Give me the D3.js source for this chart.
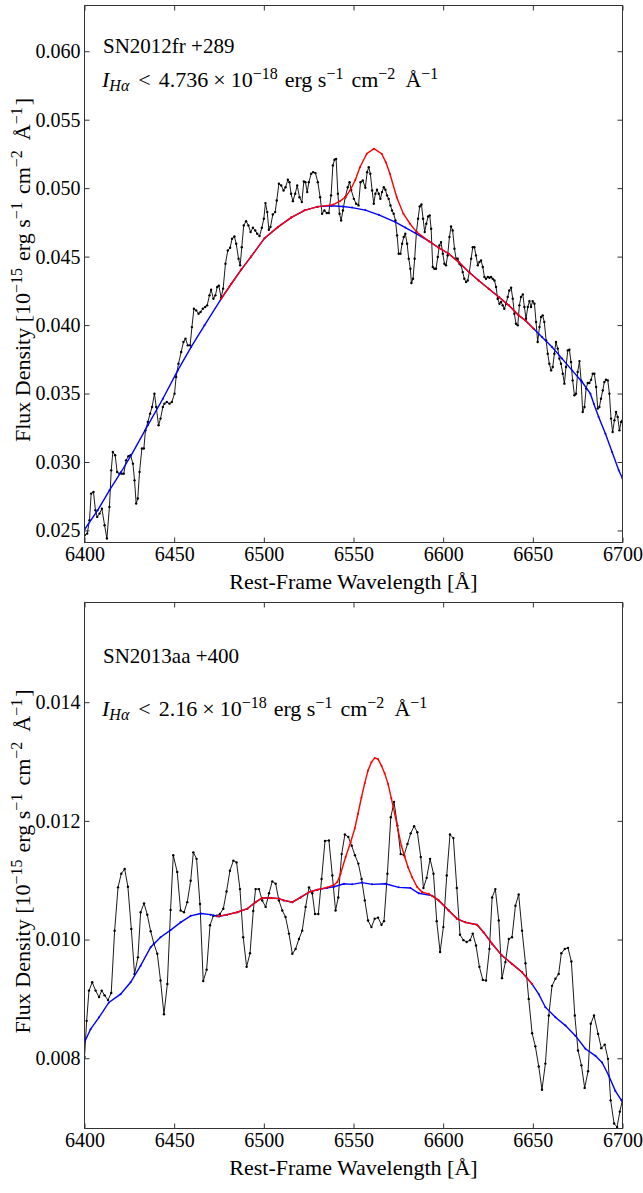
<!DOCTYPE html>
<html>
<head>
<meta charset="utf-8">
<script src="https://cdn.jsdelivr.net/npm/d3@7"></script>
<style>
  body { margin: 0; background: #fff; }
</style>
</head>
<body>
<div id="chart-area"></div>
<script>
// ---- data (wavelength in Å, flux in 1e-15 erg/s/cm2/Å) ----
var xTicks = [6400, 6450, 6500, 6550, 6600, 6650, 6700];

var topName = "SN2012fr +289";
var topLimit = "4.736";
var topYDomain = [0.02412, 0.06334];
var topYTicks = [0.025, 0.030, 0.035, 0.040, 0.045, 0.050, 0.055, 0.060];

var topSpectrum = [[6400.0,0.02465],[6401.5,0.02477],[6402.8,0.02574],[6403.7,0.02769],[6405.0,0.02781],[6406.1,0.02647],[6407.1,0.02599],[6408.4,0.02623],[6409.7,0.02659],[6411.2,0.02538],[6412.5,0.02441],[6413.9,0.02672],[6414.9,0.02939],[6415.8,0.03073],[6417.1,0.03049],[6418.2,0.02927],[6419.5,0.02915],[6420.8,0.02915],[6421.9,0.02915],[6423.2,0.03012],[6424.5,0.03042],[6425.7,0.03049],[6427.0,0.02988],[6427.9,0.02866],[6428.8,0.02696],[6429.7,0.02733],[6430.7,0.02927],[6432.0,0.03098],[6433.1,0.03098],[6434.0,0.03231],[6435.3,0.03292],[6436.6,0.03353],[6437.7,0.03402],[6439.0,0.03499],[6440.0,0.03402],[6441.3,0.03268],[6442.4,0.03317],[6443.7,0.03402],[6444.6,0.03426],[6445.9,0.03438],[6447.4,0.03426],[6448.7,0.03438],[6450.2,0.03499],[6451.1,0.03621],[6452.4,0.03718],[6453.9,0.03803],[6455.2,0.03876],[6456.3,0.03900],[6457.6,0.03852],[6458.9,0.03852],[6459.9,0.03985],[6461.0,0.04119],[6462.3,0.04107],[6463.6,0.04083],[6464.7,0.04095],[6466.0,0.04119],[6467.3,0.04132],[6468.4,0.04144],[6469.7,0.04217],[6470.6,0.04258],[6471.9,0.04192],[6473.0,0.04217],[6474.0,0.04278],[6474.9,0.04287],[6476.2,0.04200],[6477.3,0.04266],[6478.6,0.04448],[6479.9,0.04545],[6481.2,0.04565],[6482.3,0.04630],[6483.6,0.04647],[6484.6,0.04594],[6485.9,0.04484],[6486.8,0.04436],[6487.7,0.04569],[6488.8,0.04728],[6490.1,0.04759],[6491.4,0.04728],[6492.6,0.04679],[6493.9,0.04711],[6495.2,0.04691],[6496.3,0.04667],[6497.6,0.04650],[6498.9,0.04711],[6500.0,0.04777],[6500.9,0.04891],[6501.9,0.04825],[6502.8,0.04696],[6503.7,0.04716],[6505.0,0.04808],[6506.3,0.04825],[6507.2,0.04910],[6508.4,0.05032],[6509.7,0.05020],[6511.0,0.04983],[6512.1,0.05007],[6513.4,0.05061],[6514.3,0.05044],[6515.2,0.04959],[6516.2,0.04905],[6517.5,0.04959],[6518.6,0.05020],[6519.9,0.04934],[6521.2,0.04898],[6522.3,0.05049],[6523.2,0.05044],[6524.2,0.04971],[6525.1,0.05044],[6526.4,0.05105],[6527.5,0.05117],[6528.8,0.05110],[6530.1,0.05044],[6531.4,0.04934],[6532.5,0.04813],[6533.8,0.04837],[6535.1,0.04818],[6536.2,0.04818],[6537.5,0.04947],[6538.5,0.05166],[6539.4,0.05207],[6540.3,0.05214],[6541.3,0.04959],[6542.2,0.04813],[6543.1,0.04764],[6544.1,0.04837],[6545.4,0.04934],[6546.8,0.05007],[6547.8,0.05044],[6548.7,0.04988],[6550.2,0.04922],[6551.5,0.04886],[6552.8,0.04874],[6553.9,0.05044],[6555.2,0.05056],[6556.6,0.05003],[6557.6,0.05117],[6558.5,0.05153],[6559.4,0.05105],[6560.4,0.04983],[6561.3,0.04886],[6562.2,0.04959],[6563.1,0.04988],[6564.1,0.04959],[6565.0,0.04922],[6565.9,0.04971],[6566.9,0.05007],[6567.8,0.04988],[6568.7,0.04947],[6569.6,0.04922],[6570.6,0.04874],[6571.5,0.04837],[6572.4,0.04813],[6573.4,0.04764],[6574.3,0.04655],[6575.2,0.04521],[6576.2,0.04521],[6577.1,0.04594],[6578.0,0.04643],[6578.9,0.04667],[6579.9,0.04594],[6580.8,0.04484],[6581.7,0.04411],[6582.3,0.04307],[6583.2,0.04338],[6584.1,0.04484],[6585.1,0.04679],[6586.0,0.04776],[6586.9,0.04866],[6587.9,0.04881],[6588.8,0.04776],[6589.7,0.04679],[6590.6,0.04740],[6591.6,0.04793],[6592.5,0.04801],[6593.3,0.04703],[6594.2,0.04424],[6595.1,0.04411],[6596.0,0.04411],[6597.0,0.04497],[6597.9,0.04582],[6598.8,0.04606],[6599.8,0.04521],[6600.7,0.04448],[6601.6,0.04436],[6602.5,0.04509],[6603.5,0.04643],[6604.4,0.04720],[6605.3,0.04691],[6606.3,0.04557],[6607.2,0.04484],[6608.1,0.04484],[6609.1,0.04448],[6610.0,0.04436],[6610.9,0.04387],[6611.8,0.04338],[6612.8,0.04314],[6613.7,0.04326],[6614.6,0.04387],[6615.6,0.04484],[6616.5,0.04569],[6617.4,0.04569],[6618.3,0.04509],[6619.3,0.04436],[6620.2,0.04460],[6621.1,0.04472],[6622.1,0.04424],[6623.0,0.04351],[6623.9,0.04338],[6624.9,0.04351],[6625.8,0.04346],[6626.7,0.04351],[6627.6,0.04338],[6628.6,0.04326],[6629.5,0.04278],[6630.4,0.04192],[6631.4,0.04156],[6632.3,0.04168],[6633.2,0.04144],[6634.1,0.04119],[6635.1,0.04156],[6636.0,0.04205],[6636.9,0.04253],[6637.9,0.04273],[6638.8,0.04192],[6639.7,0.04083],[6640.6,0.04010],[6641.6,0.03998],[6642.5,0.04144],[6643.4,0.04205],[6644.4,0.04224],[6645.3,0.04132],[6646.2,0.04046],[6647.2,0.04132],[6648.1,0.04175],[6649.0,0.04132],[6649.9,0.04175],[6650.9,0.04156],[6651.8,0.04022],[6652.7,0.03876],[6653.7,0.03986],[6654.6,0.04059],[6655.5,0.04071],[6656.4,0.04022],[6657.4,0.03888],[6658.3,0.03791],[6659.2,0.03718],[6660.2,0.03669],[6661.1,0.03694],[6662.0,0.03791],[6662.9,0.03876],[6663.9,0.03828],[6664.8,0.03755],[6665.7,0.03718],[6666.7,0.03645],[6667.6,0.03572],[6668.5,0.03694],[6669.5,0.03815],[6670.4,0.03820],[6671.3,0.03730],[6672.2,0.03596],[6673.2,0.03487],[6674.1,0.03499],[6675.0,0.03657],[6676.0,0.03737],[6676.9,0.03596],[6677.8,0.03365],[6678.8,0.03402],[6679.7,0.03536],[6680.6,0.03577],[6681.5,0.03577],[6682.5,0.03601],[6683.4,0.03645],[6684.3,0.03645],[6685.3,0.03548],[6686.2,0.03390],[6687.1,0.03402],[6688.0,0.03462],[6689.0,0.03523],[6689.9,0.03584],[6690.8,0.03601],[6691.8,0.03596],[6692.7,0.03499],[6693.6,0.03317],[6694.5,0.03219],[6695.5,0.03304],[6696.4,0.03365],[6697.3,0.03329],[6698.3,0.03231],[6699.2,0.03292],[6700.0,0.03304]];

var topContinuum = [[6400.0,0.02506],[6407.4,0.02648],[6413.9,0.02793],[6420.4,0.02927],[6426.0,0.03049],[6435.3,0.03268],[6443.7,0.03462],[6452.0,0.03669],[6459.5,0.03840],[6466.9,0.03998],[6476.2,0.04192],[6481.8,0.04300],[6487.4,0.04405],[6492.9,0.04500],[6500.4,0.04635],[6507.8,0.04715],[6515.2,0.04785],[6522.7,0.04838],[6530.1,0.04865],[6537.5,0.04872],[6544.0,0.04866],[6549.2,0.04858],[6556.6,0.04840],[6564.1,0.04805],[6573.4,0.04752],[6578.9,0.04712],[6584.5,0.04672],[6592.0,0.04613],[6597.5,0.04565],[6603.1,0.04521],[6608.7,0.04460],[6614.3,0.04387],[6619.8,0.04326],[6625.4,0.04265],[6631.0,0.04205],[6636.6,0.04144],[6642.1,0.04071],[6645.9,0.04034],[6650.5,0.03974],[6655.1,0.03913],[6660.7,0.03840],[6666.3,0.03755],[6671.9,0.03669],[6677.5,0.03584],[6682.1,0.03499],[6684.0,0.03426],[6686.7,0.03329],[6690.5,0.03207],[6694.2,0.03073],[6697.9,0.02940],[6700.0,0.02879]];

var topFit = [[6476.2,0.04192],[6481.8,0.04300],[6487.4,0.04405],[6492.9,0.04500],[6500.4,0.04635],[6507.8,0.04715],[6515.2,0.04785],[6522.7,0.04838],[6530.1,0.04865],[6535.0,0.04872],[6538.7,0.04880],[6542.5,0.04905],[6545.5,0.04935],[6548.1,0.04983],[6551.0,0.05060],[6553.6,0.05153],[6557.4,0.05251],[6561.4,0.05288],[6565.7,0.05251],[6568.0,0.05190],[6570.3,0.05105],[6574.1,0.04934],[6577.8,0.04813],[6581.5,0.04740],[6585.2,0.04679],[6592.0,0.04613],[6597.5,0.04565],[6603.1,0.04521],[6608.7,0.04460],[6614.3,0.04387],[6619.8,0.04326],[6625.4,0.04265],[6631.0,0.04205],[6636.6,0.04144],[6642.1,0.04071],[6645.9,0.04034],[6650.5,0.03974]];

var botName = "SN2013aa +400";
var botLimit = "2.16";
var botYDomain = [0.006816, 0.01568];
var botYTicks = [0.008, 0.010, 0.012, 0.014];

var botSpectrum = [[6400.0,0.00802],[6401.2,0.00863],[6402.5,0.00914],[6404.3,0.00928],[6406.2,0.00914],[6408.1,0.00903],[6409.6,0.00914],[6411.2,0.00906],[6413.1,0.00898],[6414.9,0.00910],[6416.8,0.01015],[6418.7,0.01088],[6420.5,0.01111],[6422.4,0.01119],[6424.2,0.01089],[6426.1,0.01018],[6427.9,0.00942],[6429.8,0.00970],[6431.3,0.01046],[6433.2,0.01061],[6435.0,0.01042],[6436.9,0.01014],[6438.7,0.00993],[6440.6,0.00976],[6442.4,0.00931],[6444.3,0.00874],[6446.2,0.00925],[6448.0,0.01050],[6449.5,0.01142],[6451.7,0.01114],[6453.6,0.01049],[6455.5,0.01046],[6457.3,0.01063],[6459.2,0.01099],[6460.7,0.01147],[6462.5,0.01136],[6464.4,0.01060],[6466.2,0.00930],[6468.1,0.00949],[6470.0,0.01024],[6471.8,0.01040],[6473.7,0.01040],[6475.5,0.01043],[6477.4,0.01052],[6479.2,0.01081],[6481.1,0.01116],[6483.0,0.01133],[6484.8,0.01130],[6486.7,0.01085],[6488.5,0.01004],[6490.4,0.00954],[6492.3,0.00977],[6494.1,0.01048],[6495.4,0.01085],[6497.3,0.01085],[6499.1,0.01066],[6501.0,0.01055],[6502.9,0.01078],[6504.7,0.01098],[6506.6,0.01094],[6508.4,0.01066],[6510.3,0.01049],[6512.1,0.01038],[6514.0,0.01010],[6515.9,0.00976],[6517.7,0.00984],[6519.6,0.01001],[6521.4,0.01015],[6523.3,0.01055],[6525.2,0.01088],[6527.0,0.01078],[6528.5,0.01043],[6530.4,0.01043],[6532.2,0.01102],[6534.1,0.01166],[6536.3,0.01167],[6538.2,0.01108],[6540.0,0.01049],[6541.5,0.01071],[6543.4,0.01144],[6545.2,0.01177],[6547.1,0.01173],[6549.0,0.01158],[6550.8,0.01142],[6552.7,0.01128],[6554.5,0.01102],[6556.3,0.01066],[6558.1,0.01032],[6560.0,0.01021],[6561.8,0.01035],[6563.7,0.01037],[6565.6,0.01025],[6567.0,0.01031],[6568.9,0.01111],[6570.8,0.01206],[6572.6,0.01232],[6574.5,0.01192],[6576.3,0.01144],[6578.2,0.01142],[6580.1,0.01161],[6581.9,0.01179],[6583.8,0.01191],[6585.6,0.01181],[6587.5,0.01139],[6589.0,0.01087],[6590.8,0.01104],[6592.7,0.01136],[6594.6,0.01111],[6596.4,0.01031],[6598.3,0.00979],[6600.1,0.01021],[6602.0,0.01108],[6603.8,0.01177],[6605.7,0.01171],[6607.6,0.01087],[6609.4,0.01008],[6611.3,0.00999],[6613.1,0.00996],[6615.0,0.00999],[6616.5,0.01010],[6618.3,0.00990],[6620.2,0.00954],[6622.1,0.00932],[6623.9,0.00931],[6625.8,0.00984],[6627.3,0.01071],[6629.1,0.01085],[6631.0,0.01032],[6632.8,0.00935],[6634.7,0.00962],[6636.6,0.01001],[6638.4,0.01004],[6640.3,0.01057],[6642.1,0.01076],[6644.0,0.01015],[6645.9,0.00960],[6647.7,0.00900],[6649.6,0.00842],[6651.4,0.00820],[6653.3,0.00786],[6655.1,0.00747],[6657.0,0.00791],[6658.9,0.00872],[6660.7,0.00922],[6662.6,0.00934],[6664.4,0.00942],[6665.9,0.00977],[6667.8,0.00984],[6669.6,0.00986],[6671.5,0.00963],[6673.4,0.00872],[6675.2,0.00813],[6677.1,0.00788],[6678.9,0.00750],[6680.8,0.00778],[6682.3,0.00858],[6684.1,0.00872],[6686.4,0.00841],[6688.2,0.00817],[6690.1,0.00823],[6691.9,0.00799],[6693.4,0.00729],[6695.3,0.00690],[6697.0,0.00684],[6698.5,0.00710],[6700.0,0.00730]];

var botContinuum = [[6400.0,0.00827],[6403.4,0.00849],[6408.1,0.00869],[6413.6,0.00894],[6420.1,0.00908],[6425.7,0.00928],[6431.3,0.00956],[6436.9,0.00987],[6442.4,0.01004],[6448.0,0.01016],[6453.6,0.01029],[6459.2,0.01040],[6464.8,0.01044],[6470.3,0.01042],[6475.0,0.01039],[6479.6,0.01042],[6485.2,0.01046],[6490.8,0.01052],[6495.4,0.01063],[6499.1,0.01070],[6503.8,0.01070],[6508.4,0.01069],[6511.2,0.01066],[6515.9,0.01063],[6520.5,0.01071],[6525.2,0.01080],[6529.8,0.01084],[6535.4,0.01087],[6539.1,0.01089],[6544.7,0.01094],[6549.2,0.01093],[6554.8,0.01096],[6560.4,0.01093],[6567.8,0.01094],[6575.2,0.01088],[6581.7,0.01087],[6586.4,0.01078],[6593.8,0.01074],[6597.5,0.01066],[6603.1,0.01049],[6607.8,0.01035],[6612.4,0.01029],[6618.9,0.01025],[6622.6,0.01012],[6627.3,0.00993],[6632.8,0.00973],[6638.4,0.00959],[6644.0,0.00945],[6649.6,0.00925],[6653.3,0.00908],[6657.0,0.00886],[6662.6,0.00869],[6668.2,0.00855],[6673.7,0.00838],[6679.3,0.00816],[6684.9,0.00804],[6688.6,0.00793],[6692.3,0.00771],[6696.0,0.00745],[6699.4,0.00729],[6700.0,0.00727]];

var botFit = [[6474.0,0.01039],[6479.6,0.01042],[6485.2,0.01046],[6490.8,0.01052],[6495.4,0.01063],[6499.1,0.01070],[6503.8,0.01070],[6508.4,0.01069],[6511.2,0.01066],[6515.9,0.01063],[6520.5,0.01071],[6525.2,0.01080],[6529.8,0.01084],[6535.4,0.01088],[6539.1,0.01092],[6541.0,0.01097],[6542.8,0.01111],[6545.6,0.01139],[6548.4,0.01164],[6550.7,0.01187],[6552.5,0.01212],[6554.4,0.01239],[6556.3,0.01264],[6558.1,0.01285],[6560.0,0.01299],[6561.8,0.01306],[6563.7,0.01304],[6565.6,0.01293],[6567.4,0.01280],[6569.3,0.01262],[6571.1,0.01238],[6573.0,0.01212],[6574.9,0.01184],[6576.7,0.01158],[6578.6,0.01139],[6580.4,0.01122],[6582.7,0.01105],[6585.4,0.01089],[6588.2,0.01080],[6592.0,0.01077],[6594.7,0.01072],[6597.5,0.01066],[6603.1,0.01049],[6607.8,0.01035],[6612.4,0.01029],[6618.9,0.01025],[6622.6,0.01012],[6627.3,0.00993],[6632.8,0.00973],[6638.4,0.00959],[6644.0,0.00945],[6649.6,0.00925]];

// ---- layout ----
var width = 643, height = 1193;
var left = 84.5, right = 622.5;
var serif = '"Liberation Serif", "Times New Roman", serif';

var svg = d3.select("#chart-area")
    .append("svg")
    .attr("width", width)
    .attr("height", height)
    .style("display", "block")
    .style("font-family", serif);

var panels = [
    { id: "top", top: 5.5, bottom: 542.5, yDomain: topYDomain, yTicks: topYTicks,
      spectrum: topSpectrum, continuum: topContinuum, fit: topFit, name: topName, limit: topLimit,
      nameY: 53, limitY: 87 },
    { id: "bot", top: 602.5, bottom: 1128.5, yDomain: botYDomain, yTicks: botYTicks,
      spectrum: botSpectrum, continuum: botContinuum, fit: botFit, name: botName, limit: botLimit,
      nameY: 663, limitY: 716 }
];

var x = d3.scaleLinear().domain([6400, 6700]).range([left, right]);

// rich text: parts = [text, "sup"|"sub"|"", italic, dx]
function richText(sel, parts, supSize) {
    var shift = 0;
    parts.forEach(function (p) {
        var t = sel.append("tspan").text(p[0]);
        var target = p[1] === "sup" ? -8 : p[1] === "sub" ? 4 : 0;
        t.attr("dy", target - shift);
        shift = target;
        if (p[1]) t.attr("font-size", supSize);
        if (p[2]) t.attr("font-style", "italic");
        if (p[3]) t.attr("dx", p[3]);
    });
}

panels.forEach(function (p) {
    var y = d3.scaleLinear().domain(p.yDomain).range([p.bottom, p.top]);
    var g = svg.append("g").attr("class", "panel-" + p.id);

    g.append("clipPath").attr("id", "clip-" + p.id)
        .append("rect")
        .attr("x", left).attr("y", p.top)
        .attr("width", right - left).attr("height", p.bottom - p.top);

    var plot = g.append("g").attr("clip-path", `url(#clip-${p.id})`);
    var line = d3.line().x(d => x(d[0])).y(d => y(d[1]));

    var series = [
        { data: p.spectrum, color: "#000000", w: 0.9, r: 1.2 },
        { data: p.continuum, color: "#0000ff", w: 1.4, r: 1.0 },
        { data: p.fit, color: "#ff0000", w: 1.4, r: 1.0 }
    ];
    series.forEach(function (s) {
        plot.append("path")
            .datum(s.data)
            .attr("d", line)
            .attr("fill", "none")
            .attr("stroke", s.color)
            .attr("stroke-width", s.w);
        plot.append("g").selectAll("circle")
            .data(s.data)
            .enter()
            .append("circle")
            .attr("cx", d => x(d[0]))
            .attr("cy", d => y(d[1]))
            .attr("r", s.r)
            .attr("fill", s.color);
    });

    // axes, ticks pointing inwards on all four sides
    var axisColor = "#333";
    var bottomAxis = g.append("g")
        .attr("transform", `translate(0,${p.bottom})`)
        .call(d3.axisBottom(x).tickValues(xTicks).tickFormat(d3.format("d"))
            .tickSizeInner(-5).tickSizeOuter(0).tickPadding(4));
    var topAxis = g.append("g")
        .attr("transform", `translate(0,${p.top})`)
        .call(d3.axisTop(x).tickValues(xTicks).tickFormat("")
            .tickSizeInner(-5).tickSizeOuter(0));
    var leftAxis = g.append("g")
        .attr("transform", `translate(${left},0)`)
        .call(d3.axisLeft(y).tickValues(p.yTicks).tickFormat(d3.format(".3f"))
            .tickSizeInner(-5).tickSizeOuter(0).tickPadding(4));
    var rightAxis = g.append("g")
        .attr("transform", `translate(${right},0)`)
        .call(d3.axisRight(y).tickValues(p.yTicks).tickFormat("")
            .tickSizeInner(-5).tickSizeOuter(0));

    [bottomAxis, topAxis, leftAxis, rightAxis].forEach(function (a) {
        a.attr("font-family", serif).attr("font-size", 20);
        a.select(".domain").remove();
        a.selectAll("line").attr("stroke", axisColor);
        a.selectAll("text")
            .style("font-family", serif)
            .attr("font-size", "20px")
            .attr("fill", "#000");
    });

    g.append("rect")
        .attr("x", left).attr("y", p.top)
        .attr("width", right - left).attr("height", p.bottom - p.top)
        .attr("fill", "none")
        .attr("stroke", axisColor)
        .attr("stroke-width", 1);

    // annotations
    g.append("text")
        .attr("x", 103)
        .attr("y", p.nameY)
        .attr("font-size", "21px")
        .style("font-family", serif)
        .text(p.name);

    var lim = g.append("text")
        .attr("x", 102)
        .attr("y", p.limitY)
        .attr("font-size", "22px")
        .style("font-family", serif);
    richText(lim, [
        ["I", "", true], ["Hα", "sub", true],
        ["<", "", false, 9], [p.limit, "", false, 8], ["×", "", false, 5], ["10", "", false, 5],
        ["−18", "sup"],
        ["erg", "", false, 7], ["s", "", false, 5.5], ["−1", "sup"],
        ["cm", "", false, 8], ["−2", "sup"],
        ["Å", "", false, 10], ["−1", "sup"]
    ], "16px");

    // axis labels
    g.append("text")
        .attr("x", (left + right) / 2)
        .attr("y", p.bottom + 46)
        .attr("text-anchor", "middle")
        .attr("font-size", "22px")
        .style("font-family", serif)
        .text("Rest-Frame Wavelength [Å]");

    var yl = g.append("text")
        .attr("transform", `translate(30,${(p.top + p.bottom) / 2 - 4}) rotate(-90)`)
        .attr("text-anchor", "middle")
        .attr("font-size", "22px")
        .style("font-family", serif);
    richText(yl, [
        ["Flux Density [10", ""], ["−15", "sup"],
        ["erg", "", false, 7], ["s", "", false, 5.5], ["−1", "sup"],
        ["cm", "", false, 8], ["−2", "sup"],
        ["Å", "", false, 10], ["−1", "sup"], ["]", "", false, 2]
    ], "16px");
});
</script>
</body>
</html>
